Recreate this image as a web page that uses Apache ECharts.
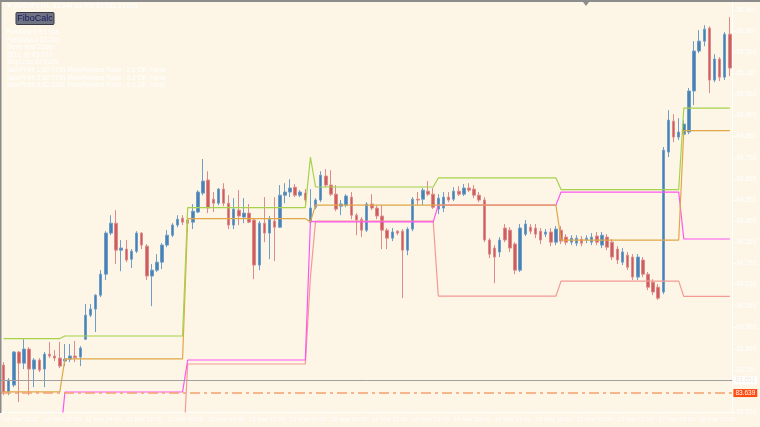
<!DOCTYPE html>
<html><head><meta charset="utf-8">
<script src="https://cdn.jsdelivr.net/npm/echarts@6/dist/echarts.min.js"></script>
<style>html,body{margin:0;padding:0;background:#FDF5E6;}#c{width:760px;height:427px;}</style>
</head><body><div id="c"></div>
<script>
// ---- candle data (AUDJPY H1) ----
const opens = [83.773,83.645,83.678,83.835,83.782,83.849,83.754,83.797,83.754,83.825,83.816,83.806,
83.792,83.801,83.816,83.811,83.896,84.010,84.039,84.105,84.205,84.400,84.447,84.319,84.324,84.276,84.314,84.400,84.338,84.196,84.224,84.262,84.343,84.390,84.438,84.471,
84.462,84.452,84.500,84.590,84.652,84.561,84.542,84.609,84.542,84.438,84.509,84.476,84.495,84.462,84.248,84.447,84.400,84.457,84.428,84.580,84.595,84.618,84.580,84.590,
84.452,
84.523,84.557,84.671,84.628,84.585,84.528,84.533,84.571,84.485,84.466,84.414,84.538,84.519,84.481,84.414,84.376,84.409,84.409,84.319,84.419,84.561,84.561,84.599,84.585,
84.514,84.519,84.571,84.561,84.599,84.585,84.614,84.609,84.580,84.557,84.367,84.329,84.310,84.424,84.414,84.348,84.224,84.395,84.428,84.424,84.409,84.395,84.405,84.357,
84.414,84.381,84.357,84.352,84.371,84.367,84.357,84.386,84.343,84.381,84.357,84.324,84.262,84.295,84.286,84.191,84.272,84.205,84.167,84.143,84.120,84.785,84.932,84.856,
84.870,84.880,85.075,85.265,85.312,85.374,85.127,85.227,85.141,85.345];
const closes = [83.645,83.702,83.835,83.782,83.849,83.754,83.797,83.749,83.825,83.816,83.806,83.768,
83.801,83.816,83.808,83.854,84.010,84.039,84.105,84.205,84.400,84.447,84.319,84.329,84.272,84.314,84.400,84.343,84.196,84.224,84.262,84.343,84.390,84.438,84.466,84.452,
84.447,84.504,84.595,84.647,84.519,84.542,84.609,84.542,84.438,84.514,84.481,84.495,84.452,84.248,84.447,84.400,84.466,84.428,84.580,84.595,84.614,84.580,84.595,84.557,
84.519,
84.557,84.675,84.628,84.585,84.514,84.538,84.576,84.485,84.462,84.414,84.538,84.519,84.481,84.414,84.376,84.405,84.400,84.319,84.419,84.561,84.557,84.604,84.585,84.523,
84.566,84.571,84.557,84.599,84.585,84.614,84.604,84.580,84.557,84.367,84.300,84.286,84.367,84.367,84.329,84.224,84.424,84.443,84.409,84.395,84.367,84.405,84.357,84.419,
84.362,84.357,84.376,84.376,84.352,84.376,84.381,84.357,84.390,84.333,84.286,84.272,84.310,84.238,84.191,84.286,84.205,84.143,84.120,84.091,84.794,84.937,84.856,84.880,
84.918,85.075,85.265,85.312,85.369,85.127,85.227,85.141,85.345,85.184];
const lows = [83.630,83.630,83.668,83.597,83.754,83.630,83.668,83.740,83.668,83.806,83.792,83.759,
83.768,83.787,83.787,83.768,83.892,84.001,83.930,84.096,84.177,84.390,84.253,84.219,84.262,84.234,84.305,84.324,84.177,84.053,84.215,84.229,84.333,84.381,84.428,84.438,
84.405,84.419,84.495,84.580,84.495,84.500,84.533,84.528,84.419,84.419,84.438,84.447,84.447,84.181,84.224,84.357,84.276,84.267,84.424,84.542,84.571,84.571,84.571,84.538,
84.438,
84.514,84.547,84.618,84.576,84.504,84.485,84.523,84.466,84.390,84.381,84.405,84.509,84.466,84.324,84.324,84.362,84.390,84.091,84.295,84.409,84.533,84.533,84.576,84.514,
84.490,84.500,84.547,84.552,84.576,84.576,84.595,84.566,84.547,84.357,84.281,84.162,84.286,84.357,84.310,84.205,84.215,84.386,84.395,84.376,84.348,84.381,84.338,84.343,
84.348,84.343,84.343,84.338,84.338,84.352,84.343,84.343,84.329,84.319,84.272,84.253,84.248,84.224,84.177,84.177,84.191,84.129,84.105,84.082,84.110,84.761,84.832,84.842,
84.856,84.870,85.008,85.255,85.288,85.065,85.117,85.122,85.127,85.146];
const highs = [83.787,83.711,83.839,83.839,83.896,83.858,83.806,83.806,83.835,83.882,83.844,83.882,
83.873,83.873,83.887,83.863,84.063,84.063,84.110,84.224,84.409,84.485,84.509,84.367,84.367,84.324,84.409,84.405,84.348,84.253,84.300,84.352,84.414,84.447,84.485,84.485,
84.471,84.538,84.604,84.752,84.694,84.595,84.614,84.637,84.580,84.566,84.604,84.566,84.538,84.471,84.457,84.571,84.481,84.571,84.628,84.637,84.656,84.633,84.604,84.609,
84.609,
84.566,84.694,84.704,84.699,84.628,84.557,84.585,84.595,84.495,84.476,84.547,84.585,84.533,84.533,84.424,84.424,84.414,84.419,84.428,84.571,84.595,84.614,84.647,84.614,
84.585,84.595,84.595,84.618,84.623,84.633,84.637,84.628,84.595,84.571,84.376,84.343,84.381,84.443,84.428,84.357,84.443,84.462,84.443,84.443,84.424,84.419,84.424,84.433,
84.433,84.395,84.390,84.390,84.386,84.390,84.400,84.405,84.405,84.395,84.371,84.338,84.329,84.310,84.300,84.300,84.286,84.215,84.181,84.158,84.809,84.984,84.965,84.946,
84.937,85.089,85.312,85.364,85.388,85.383,85.250,85.236,85.355,85.426];

// ---- daily reference levels (one value per trading day segment) ----
const dayStarts = [0, 12, 36, 60, 61, 85, 109, 133];
const prevDayHigh  = [83.899, 83.911, 84.521, 84.761, 84.619, 84.662, 84.607, 84.994];
const prevDayClose = [83.646, 83.802, 84.469, 84.453, 84.533, 84.533, 84.367, 84.887];
const prevDayOpen  = [83.400, 83.645, 83.797, 84.457, 84.453, 84.533, 84.595, 84.372];
const prevDayLow   = [83.300, 83.300, 83.778, 84.191, 84.457, 84.101, 84.172, 84.099];

const greyLevel = 83.697, greyLabel = '83.651';
const stopLevel = 83.643, stopLabel = '83.639';

const xTickLabels = ['10 Mar 2021','10 Mar 20:00','11 Mar 04:00','11 Mar 12:00','11 Mar 20:00','12 Mar 04:00',
 '12 Mar 12:00','12 Mar 20:00','15 Mar 03:00','15 Mar 11:00','15 Mar 19:00','16 Mar 03:00','16 Mar 11:00',
 '16 Mar 19:00','17 Mar 03:00','17 Mar 11:00','17 Mar 19:00','18 Mar 03:00'];
const yTickLabels = ['83.550','83.750','83.850','83.955','84.055','84.155','84.255','84.355','84.455','84.555',
 '84.655','84.755','84.860','84.960','85.060','85.160','85.260','85.360','85.460'];

const headerText = '\u25BC AUDJPY,H1  83.644 83.706 83.592 83.693';
const infoLines = ['PrevDayHi 83.908','PrevDayLo 83.205','Trend was Down','SELL @ 83.679','StopLoss 83.6395',
 'TakeProfit 1:83.0795 Risk/Reward Ratio : 2.6 OK Trade',
 'TakeProfit 2:82.7795 Risk/Reward Ratio : 4.2 OK Trade',
 'TakeProfit 3:82.3361 Risk/Reward Ratio : 6.9 OK Trade'];

// ---- categories (hourly bars) ----
const N = opens.length;
function pad(n){return (n<10?'0':'')+n;}
const categories = [];
(function(){
  const segs = [[10,12,60],[14,23,1],[15,0,82]];
  segs.forEach(function(s){ let d=s[0], h=s[1]; for(let k=0;k<s[2];k++){ categories.push(d+' Mar '+pad(h)+':00'); h++; if(h===24){h=0;d++;} } });
})();

function expand(levels){
  const out=[];
  for(let i=0;i<N;i++){ let d=0; while(d+1<dayStarts.length && i>=dayStarts[d+1]) d++; out.push(levels[d]); }
  return out;
}
const candleData = opens.map(function(o,i){return [o, closes[i], lows[i], highs[i]];});

const chart = echarts.init(document.getElementById('c'));
const FONT = 'Liberation Sans';
function lineSeries(name, levels, color){
  return {name:name, type:'line', data:expand(levels), showSymbol:false, symbol:'none', silent:true,
    lineStyle:{color:color, width:1.2}, z:3, animation:false};
}
const graphics = [
  {type:'rect', shape:{x:0,y:0,width:760,height:2}, style:{fill:'#8C8C8C'}, z:100},
  {type:'rect', shape:{x:0,y:0,width:1.5,height:413}, style:{fill:'#8C8C8C'}, z:100},
  {type:'polygon', shape:{points:[[583,2],[589,2],[586,6]]}, style:{fill:'#8C8C8C'}, z:100},
  {type:'text', left:6, top:3, style:{text:headerText, fill:'#FFFFFF', font:'6.5px "Liberation Sans"'}, z:100},
  {type:'rect', shape:{x:16,y:12.5,width:38,height:12, r:1}, style:{fill:'#6F7280', stroke:'#3A3A4A', lineWidth:1}, z:100},
  {type:'text', x:35, y:18.7, style:{text:'FiboCalc', fill:'#1A1A60', font:'9px "Liberation Sans"', textAlign:'center', textVerticalAlign:'middle'}, z:101}
];
infoLines.forEach(function(t,i){
  graphics.push({type:'text', x:6, y:32.3 + i*7.6, style:{text:t, fill:'#FFFFFF', font:'6.5px "Liberation Sans"', textVerticalAlign:'middle'}, z:100});
});

chart.setOption({
  animation:false,
  backgroundColor:'#FDF5E6',
  grid:{left:1, right:27.6, top:2, bottom:15, containLabel:false},
  xAxis:{type:'category', data:categories, boundaryGap:true,
    axisLine:{show:true, lineStyle:{color:'#FFFFFF', width:1}},
    axisTick:{show:true, interval:7, alignWithLabel:true, length:2, lineStyle:{color:'#FFFFFF'}},
    axisLabel:{interval:7, align:'left', margin:4, color:'#FFFFFF', fontSize:6.2, fontFamily:FONT,
      formatter:function(v,idx){ const k=idx/8; return Number.isInteger(k)&&xTickLabels[k]?xTickLabels[k]:''; }},
    splitLine:{show:false}},
  yAxis:{type:'value', position:'right', min:83.55, max:85.498, scale:true,
    axisLine:{show:true, lineStyle:{color:'#FFFFFF', width:1}},
    axisTick:{show:true, length:3, customValues:yTickLabels.map(Number), lineStyle:{color:'#FFFFFF'}},
    axisLabel:{customValues:yTickLabels.map(Number), margin:4, color:'#FFFFFF', fontSize:6.5, fontFamily:FONT,
      formatter:function(v){ return v.toFixed(3); }},
    splitLine:{show:false}},
  graphic:graphics,
  series:[
    {name:'AUDJPY', type:'candlestick', data:candleData, barWidth:3, z:2,
      itemStyle:{color:'#4682B4', color0:'#CD5C5C', borderColor:'#6E9DC8', borderColor0:'#DE8A8A', borderWidth:1}},
    lineSeries('PrevDayLow', prevDayLow, '#F29B93'),
    lineSeries('PrevDayOpen', prevDayOpen, '#FF55F2'),
    lineSeries('PrevDayClose', prevDayClose, '#E0A848'),
    lineSeries('PrevDayHigh', prevDayHigh, '#A6D24C'),
    {name:'levels', type:'line', data:[], z:4,
      markLine:{silent:true, symbol:['none','none'], animation:false,
        data:[
          {yAxis:greyLevel, lineStyle:{color:'#A0A0A0', width:1, type:'solid'},
            label:{show:true, position:'end', distance:1, formatter:greyLabel, color:'#EFE8DA', backgroundColor:'#FFFFFF', padding:[1,2,0,2], fontSize:6.5, fontFamily:FONT}},
          {yAxis:stopLevel, lineStyle:{color:'#F4A070', width:1.6, type:[10,4,3,4]},
            label:{show:true, position:'end', distance:1, formatter:stopLabel, color:'#FFFFFF', backgroundColor:'#FF4A10', padding:[1,2,0,2], fontSize:6.5, fontFamily:FONT}}
        ]}}
  ]
});
</script></body></html>
